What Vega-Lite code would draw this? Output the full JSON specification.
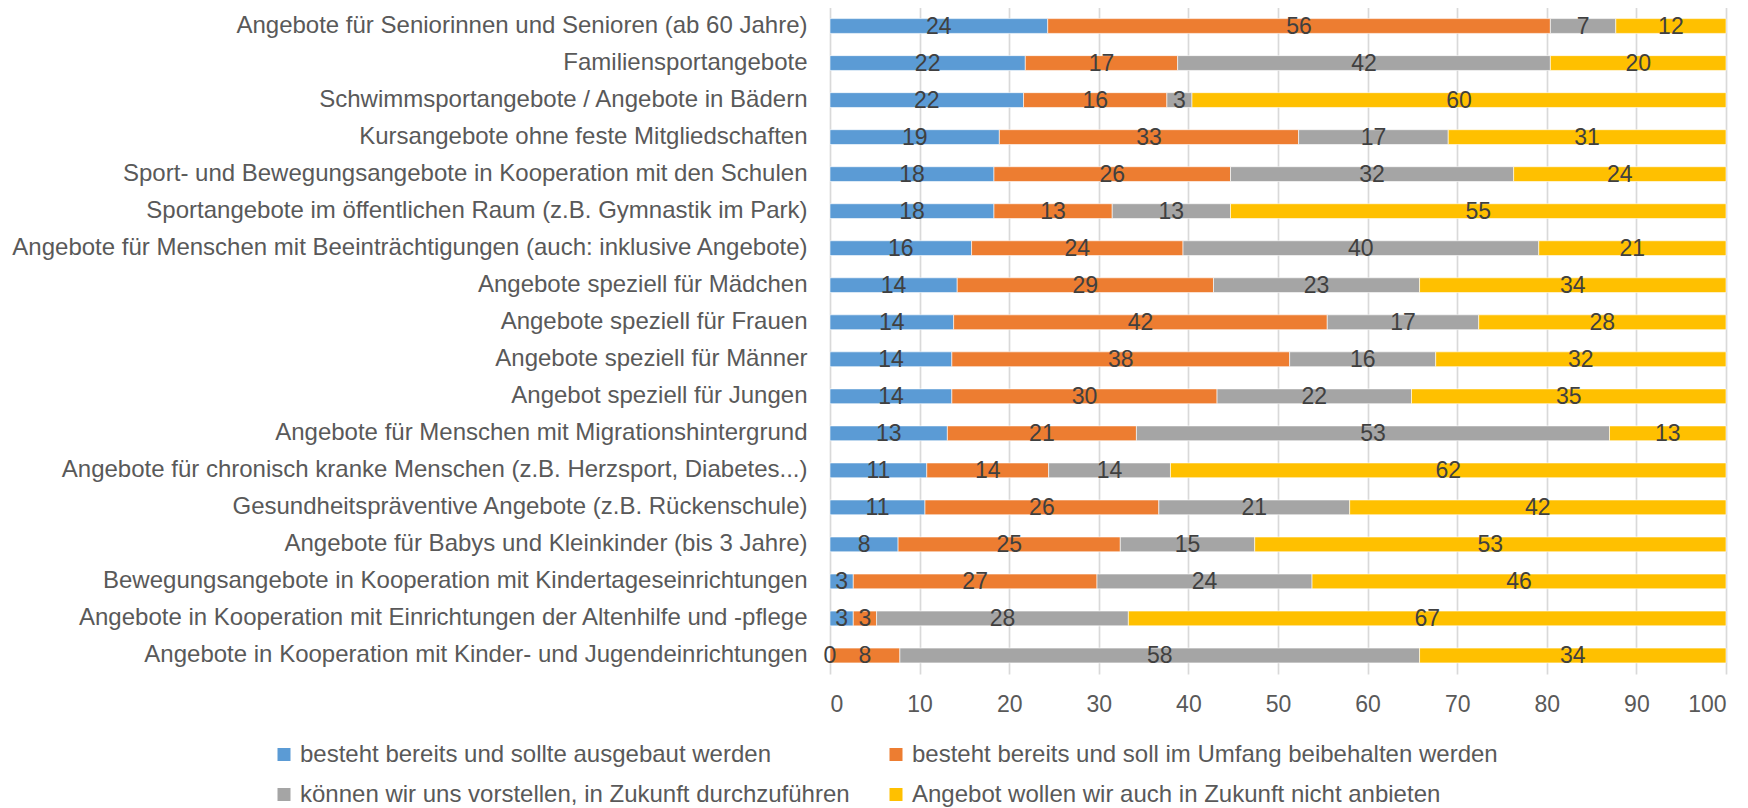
{
  "$schema": "https://vega.github.io/schema/vega-lite/v6.json",
  "width": 896,
  "height": 666.5,
  "autosize": {"type": "none"},
  "padding": {"left": 830, "top": 7.5, "right": 22, "bottom": 134},
  "background": "white",
  "config": {"view": {"stroke": null}, "font": "Liberation Sans"},
  "datasets": {
    "rows": [
      {"cat": "Angebote für Seniorinnen und Senioren (ab 60 Jahre)", "s": "besteht bereits und sollte ausgebaut werden", "k": 1, "v": 24.3},
      {"cat": "Angebote für Seniorinnen und Senioren (ab 60 Jahre)", "s": "besteht bereits und soll im Umfang beibehalten werden", "k": 2, "v": 56.1},
      {"cat": "Angebote für Seniorinnen und Senioren (ab 60 Jahre)", "s": "können wir uns vorstellen, in Zukunft durchzuführen", "k": 3, "v": 7.3},
      {"cat": "Angebote für Seniorinnen und Senioren (ab 60 Jahre)", "s": "Angebot wollen wir auch in Zukunft nicht anbieten", "k": 4, "v": 12.3},
      {"cat": "Familiensportangebote", "s": "besteht bereits und sollte ausgebaut werden", "k": 1, "v": 21.8},
      {"cat": "Familiensportangebote", "s": "besteht bereits und soll im Umfang beibehalten werden", "k": 2, "v": 17.0},
      {"cat": "Familiensportangebote", "s": "können wir uns vorstellen, in Zukunft durchzuführen", "k": 3, "v": 41.6},
      {"cat": "Familiensportangebote", "s": "Angebot wollen wir auch in Zukunft nicht anbieten", "k": 4, "v": 19.6},
      {"cat": "Schwimmsportangebote / Angebote in Bädern", "s": "besteht bereits und sollte ausgebaut werden", "k": 1, "v": 21.6},
      {"cat": "Schwimmsportangebote / Angebote in Bädern", "s": "besteht bereits und soll im Umfang beibehalten werden", "k": 2, "v": 16.0},
      {"cat": "Schwimmsportangebote / Angebote in Bädern", "s": "können wir uns vorstellen, in Zukunft durchzuführen", "k": 3, "v": 2.8},
      {"cat": "Schwimmsportangebote / Angebote in Bädern", "s": "Angebot wollen wir auch in Zukunft nicht anbieten", "k": 4, "v": 59.6},
      {"cat": "Kursangebote ohne feste Mitgliedschaften", "s": "besteht bereits und sollte ausgebaut werden", "k": 1, "v": 18.9},
      {"cat": "Kursangebote ohne feste Mitgliedschaften", "s": "besteht bereits und soll im Umfang beibehalten werden", "k": 2, "v": 33.4},
      {"cat": "Kursangebote ohne feste Mitgliedschaften", "s": "können wir uns vorstellen, in Zukunft durchzuführen", "k": 3, "v": 16.7},
      {"cat": "Kursangebote ohne feste Mitgliedschaften", "s": "Angebot wollen wir auch in Zukunft nicht anbieten", "k": 4, "v": 31.0},
      {"cat": "Sport- und Bewegungsangebote in Kooperation mit den Schulen", "s": "besteht bereits und sollte ausgebaut werden", "k": 1, "v": 18.3},
      {"cat": "Sport- und Bewegungsangebote in Kooperation mit den Schulen", "s": "besteht bereits und soll im Umfang beibehalten werden", "k": 2, "v": 26.4},
      {"cat": "Sport- und Bewegungsangebote in Kooperation mit den Schulen", "s": "können wir uns vorstellen, in Zukunft durchzuführen", "k": 3, "v": 31.6},
      {"cat": "Sport- und Bewegungsangebote in Kooperation mit den Schulen", "s": "Angebot wollen wir auch in Zukunft nicht anbieten", "k": 4, "v": 23.7},
      {"cat": "Sportangebote im öffentlichen Raum (z.B. Gymnastik im Park)", "s": "besteht bereits und sollte ausgebaut werden", "k": 1, "v": 18.3},
      {"cat": "Sportangebote im öffentlichen Raum (z.B. Gymnastik im Park)", "s": "besteht bereits und soll im Umfang beibehalten werden", "k": 2, "v": 13.2},
      {"cat": "Sportangebote im öffentlichen Raum (z.B. Gymnastik im Park)", "s": "können wir uns vorstellen, in Zukunft durchzuführen", "k": 3, "v": 13.2},
      {"cat": "Sportangebote im öffentlichen Raum (z.B. Gymnastik im Park)", "s": "Angebot wollen wir auch in Zukunft nicht anbieten", "k": 4, "v": 55.3},
      {"cat": "Angebote für Menschen mit Beeinträchtigungen (auch: inklusive Angebote)", "s": "besteht bereits und sollte ausgebaut werden", "k": 1, "v": 15.8},
      {"cat": "Angebote für Menschen mit Beeinträchtigungen (auch: inklusive Angebote)", "s": "besteht bereits und soll im Umfang beibehalten werden", "k": 2, "v": 23.6},
      {"cat": "Angebote für Menschen mit Beeinträchtigungen (auch: inklusive Angebote)", "s": "können wir uns vorstellen, in Zukunft durchzuführen", "k": 3, "v": 39.7},
      {"cat": "Angebote für Menschen mit Beeinträchtigungen (auch: inklusive Angebote)", "s": "Angebot wollen wir auch in Zukunft nicht anbieten", "k": 4, "v": 20.9},
      {"cat": "Angebote speziell für Mädchen", "s": "besteht bereits und sollte ausgebaut werden", "k": 1, "v": 14.2},
      {"cat": "Angebote speziell für Mädchen", "s": "besteht bereits und soll im Umfang beibehalten werden", "k": 2, "v": 28.6},
      {"cat": "Angebote speziell für Mädchen", "s": "können wir uns vorstellen, in Zukunft durchzuführen", "k": 3, "v": 23.0},
      {"cat": "Angebote speziell für Mädchen", "s": "Angebot wollen wir auch in Zukunft nicht anbieten", "k": 4, "v": 34.2},
      {"cat": "Angebote speziell für Frauen", "s": "besteht bereits und sollte ausgebaut werden", "k": 1, "v": 13.8},
      {"cat": "Angebote speziell für Frauen", "s": "besteht bereits und soll im Umfang beibehalten werden", "k": 2, "v": 41.7},
      {"cat": "Angebote speziell für Frauen", "s": "können wir uns vorstellen, in Zukunft durchzuführen", "k": 3, "v": 16.9},
      {"cat": "Angebote speziell für Frauen", "s": "Angebot wollen wir auch in Zukunft nicht anbieten", "k": 4, "v": 27.6},
      {"cat": "Angebote speziell für Männer", "s": "besteht bereits und sollte ausgebaut werden", "k": 1, "v": 13.6},
      {"cat": "Angebote speziell für Männer", "s": "besteht bereits und soll im Umfang beibehalten werden", "k": 2, "v": 37.7},
      {"cat": "Angebote speziell für Männer", "s": "können wir uns vorstellen, in Zukunft durchzuführen", "k": 3, "v": 16.3},
      {"cat": "Angebote speziell für Männer", "s": "Angebot wollen wir auch in Zukunft nicht anbieten", "k": 4, "v": 32.4},
      {"cat": "Angebot speziell für Jungen", "s": "besteht bereits und sollte ausgebaut werden", "k": 1, "v": 13.6},
      {"cat": "Angebot speziell für Jungen", "s": "besteht bereits und soll im Umfang beibehalten werden", "k": 2, "v": 29.6},
      {"cat": "Angebot speziell für Jungen", "s": "können wir uns vorstellen, in Zukunft durchzuführen", "k": 3, "v": 21.7},
      {"cat": "Angebot speziell für Jungen", "s": "Angebot wollen wir auch in Zukunft nicht anbieten", "k": 4, "v": 35.1},
      {"cat": "Angebote für Menschen mit Migrationshintergrund", "s": "besteht bereits und sollte ausgebaut werden", "k": 1, "v": 13.1},
      {"cat": "Angebote für Menschen mit Migrationshintergrund", "s": "besteht bereits und soll im Umfang beibehalten werden", "k": 2, "v": 21.1},
      {"cat": "Angebote für Menschen mit Migrationshintergrund", "s": "können wir uns vorstellen, in Zukunft durchzuführen", "k": 3, "v": 52.8},
      {"cat": "Angebote für Menschen mit Migrationshintergrund", "s": "Angebot wollen wir auch in Zukunft nicht anbieten", "k": 4, "v": 13.0},
      {"cat": "Angebote für chronisch kranke Menschen (z.B. Herzsport, Diabetes...)", "s": "besteht bereits und sollte ausgebaut werden", "k": 1, "v": 10.8},
      {"cat": "Angebote für chronisch kranke Menschen (z.B. Herzsport, Diabetes...)", "s": "besteht bereits und soll im Umfang beibehalten werden", "k": 2, "v": 13.6},
      {"cat": "Angebote für chronisch kranke Menschen (z.B. Herzsport, Diabetes...)", "s": "können wir uns vorstellen, in Zukunft durchzuführen", "k": 3, "v": 13.6},
      {"cat": "Angebote für chronisch kranke Menschen (z.B. Herzsport, Diabetes...)", "s": "Angebot wollen wir auch in Zukunft nicht anbieten", "k": 4, "v": 62.0},
      {"cat": "Gesundheitspräventive Angebote (z.B. Rückenschule)", "s": "besteht bereits und sollte ausgebaut werden", "k": 1, "v": 10.6},
      {"cat": "Gesundheitspräventive Angebote (z.B. Rückenschule)", "s": "besteht bereits und soll im Umfang beibehalten werden", "k": 2, "v": 26.1},
      {"cat": "Gesundheitspräventive Angebote (z.B. Rückenschule)", "s": "können wir uns vorstellen, in Zukunft durchzuführen", "k": 3, "v": 21.3},
      {"cat": "Gesundheitspräventive Angebote (z.B. Rückenschule)", "s": "Angebot wollen wir auch in Zukunft nicht anbieten", "k": 4, "v": 42.0},
      {"cat": "Angebote für Babys und Kleinkinder (bis 3 Jahre)", "s": "besteht bereits und sollte ausgebaut werden", "k": 1, "v": 7.6},
      {"cat": "Angebote für Babys und Kleinkinder (bis 3 Jahre)", "s": "besteht bereits und soll im Umfang beibehalten werden", "k": 2, "v": 24.8},
      {"cat": "Angebote für Babys und Kleinkinder (bis 3 Jahre)", "s": "können wir uns vorstellen, in Zukunft durchzuführen", "k": 3, "v": 15.0},
      {"cat": "Angebote für Babys und Kleinkinder (bis 3 Jahre)", "s": "Angebot wollen wir auch in Zukunft nicht anbieten", "k": 4, "v": 52.6},
      {"cat": "Bewegungsangebote in Kooperation mit Kindertageseinrichtungen", "s": "besteht bereits und sollte ausgebaut werden", "k": 1, "v": 2.6},
      {"cat": "Bewegungsangebote in Kooperation mit Kindertageseinrichtungen", "s": "besteht bereits und soll im Umfang beibehalten werden", "k": 2, "v": 27.2},
      {"cat": "Bewegungsangebote in Kooperation mit Kindertageseinrichtungen", "s": "können wir uns vorstellen, in Zukunft durchzuführen", "k": 3, "v": 24.0},
      {"cat": "Bewegungsangebote in Kooperation mit Kindertageseinrichtungen", "s": "Angebot wollen wir auch in Zukunft nicht anbieten", "k": 4, "v": 46.2},
      {"cat": "Angebote in Kooperation mit Einrichtungen der Altenhilfe und -pflege", "s": "besteht bereits und sollte ausgebaut werden", "k": 1, "v": 2.6},
      {"cat": "Angebote in Kooperation mit Einrichtungen der Altenhilfe und -pflege", "s": "besteht bereits und soll im Umfang beibehalten werden", "k": 2, "v": 2.6},
      {"cat": "Angebote in Kooperation mit Einrichtungen der Altenhilfe und -pflege", "s": "können wir uns vorstellen, in Zukunft durchzuführen", "k": 3, "v": 28.1},
      {"cat": "Angebote in Kooperation mit Einrichtungen der Altenhilfe und -pflege", "s": "Angebot wollen wir auch in Zukunft nicht anbieten", "k": 4, "v": 66.7},
      {"cat": "Angebote in Kooperation mit Kinder- und Jugendeinrichtungen", "s": "besteht bereits und sollte ausgebaut werden", "k": 1, "v": 0},
      {"cat": "Angebote in Kooperation mit Kinder- und Jugendeinrichtungen", "s": "besteht bereits und soll im Umfang beibehalten werden", "k": 2, "v": 7.8},
      {"cat": "Angebote in Kooperation mit Kinder- und Jugendeinrichtungen", "s": "können wir uns vorstellen, in Zukunft durchzuführen", "k": 3, "v": 58.0},
      {"cat": "Angebote in Kooperation mit Kinder- und Jugendeinrichtungen", "s": "Angebot wollen wir auch in Zukunft nicht anbieten", "k": 4, "v": 34.2}
    ]
  },
  "data": {"name": "rows"},
  "encoding": {
    "y": {
      "field": "cat", "type": "nominal", "sort": null,
      "scale": {"paddingInner": 0.6, "paddingOuter": 0.3},
      "axis": {"title": null, "ticks": false, "domain": false, "labelPadding": 23, "labelFontSize": 24, "labelColor": "#595959", "labelLimit": 1000, "labelFont": "Liberation Sans"}
    },
    "order": {"field": "k", "type": "quantitative"}
  },
  "layer": [
    {
      "mark": {"type": "bar", "stroke": "white", "strokeWidth": 0.6},
      "encoding": {
        "x": {
          "field": "v", "type": "quantitative", "stack": "zero",
          "scale": {"domain": [0, 100], "nice": false},
          "axis": {"title": null, "values": [0, 10, 20, 30, 40, 50, 60, 70, 80, 90, 100], "grid": true, "gridColor": "#d9d9d9", "gridWidth": 1.7, "domain": false, "ticks": false, "labelFontSize": 23, "labelColor": "#595959", "labelPadding": 19, "labelFont": "Liberation Sans"}
        },
        "color": {
          "field": "s", "type": "nominal",
          "scale": {
            "domain": ["besteht bereits und sollte ausgebaut werden", "besteht bereits und soll im Umfang beibehalten werden", "können wir uns vorstellen, in Zukunft durchzuführen", "Angebot wollen wir auch in Zukunft nicht anbieten"],
            "range": ["#5B9BD5", "#ED7D31", "#A5A5A5", "#FFC000"]
          },
          "legend": {"orient": "none", "legendX": -558, "legendY": 735, "direction": "horizontal", "columns": 2, "title": null, "symbolType": "square", "symbolSize": 169, "symbolStrokeWidth": 0, "labelFontSize": 24, "labelColor": "#595959", "labelFont": "Liberation Sans", "labelOffset": 4, "columnPadding": 34, "rowPadding": 16, "labelLimit": 1000, "padding": 0}
        }
      }
    },
    {
      "mark": {"type": "text", "fontSize": 23, "color": "#404040", "font": "Liberation Sans", "baseline": "middle", "align": "center", "dy": 1},
      "encoding": {
        "x": {"field": "v", "type": "quantitative", "stack": "zero", "bandPosition": 0.5},
        "detail": {"field": "s"},
        "text": {"field": "v", "type": "quantitative", "format": ".0f"}
      }
    }
  ]
}
